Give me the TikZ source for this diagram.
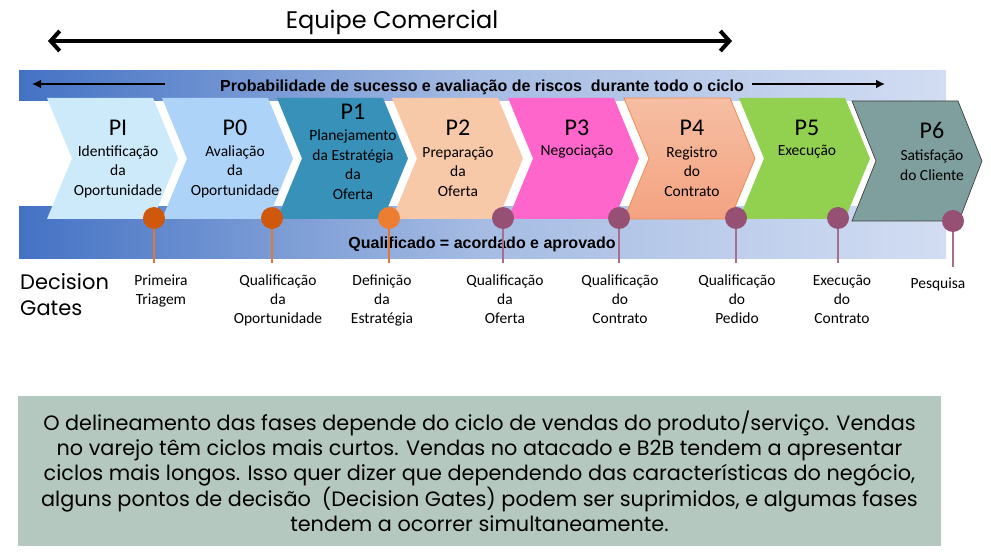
\documentclass[tikz,border=0pt]{standalone}
\usepackage{fontspec}
\setmainfont{Carlito}
\newfontfamily\gothfont{Poppins}
\newfontfamily\arialfont{Liberation Sans}
\usepackage{xcolor}
\usepackage{tikz}
\usetikzlibrary{positioning,arrows.meta}

\definecolor{bandL}{HTML}{4472C4}
\definecolor{bandM}{HTML}{A6BCE3}
\definecolor{bandR}{HTML}{D2DDF2}
\definecolor{cPI}{HTML}{CDEAFB}
\definecolor{cP0}{HTML}{AED3F8}
\definecolor{cP1}{HTML}{3791B8}
\definecolor{cP2}{HTML}{F8C9A8}
\definecolor{cP3}{HTML}{FF66CC}
\definecolor{cP4t}{HTML}{F6BEA3}
\definecolor{cP4b}{HTML}{F4A381}
\definecolor{cP4l}{HTML}{F08C4C}
\definecolor{cP5}{HTML}{92D050}
\definecolor{cP6}{HTML}{7F9E9E}
\definecolor{gDark}{HTML}{D0580C}
\definecolor{gLight}{HTML}{ED7D31}
\definecolor{gPurp}{HTML}{955073}
\definecolor{lOrng}{HTML}{E27838}
\definecolor{lPurp}{HTML}{A86E8E}
\definecolor{noteBg}{HTML}{B5C8C0}

\begin{document}
\begin{tikzpicture}
            [x=1pt,y=-1pt,
             gate/.style={circle, minimum size=22pt, inner sep=0pt},
             gatelbl/.style={font=\fontsize{15.5}{19}\selectfont, align=center, anchor=north, inner sep=0pt},
             ptitle/.style={font=\fontsize{24}{28}\selectfont, inner sep=0pt},
             pbody/.style={font=\fontsize{15.5}{19.5}\selectfont, align=center, inner sep=0pt},
             bandtxt/.style={font=\arialfont\bfseries\fontsize{16}{18}\selectfont, inner sep=0pt}]
            \useasboundingbox (0,0) rectangle (991,556);

            % faixas
            \shade[left color=bandL, right color=bandR, middle color=bandM] (19,71) rectangle (946,101);
            \shade[left color=bandL, right color=bandR, middle color=bandM] (19,207) rectangle (946,259);

            % fases
            \foreach \xo/\col in {47/cPI, 162/cP0, 277/cP1, 392/cP2, 508/cP3, 739/cP5}
            \fill[\col] (\xo,98) -- ++(106,0) -- ++(25,60.5) -- ++(-25,60.5) -- ++(-106,0) -- ++(25,-60.5) -- cycle;
            \shade[top color=cP4t, bottom color=cP4b, draw=cP4l, line width=0.8pt]
              (624,98) -- ++(106,0) -- ++(25,60.5) -- ++(-25,60.5) -- ++(-106,0) -- ++(25,-60.5) -- cycle;
            \filldraw[fill=cP6, draw=black!75, line width=0.7pt]
              (852,101) -- (958,101) -- (982,161) -- (959,221) -- (852,221) -- (876,161) -- cycle;

            \foreach \n/\x/\ty/\by/\txt in {PI/118/128/171.5/{Identificação\\da\\Oportunidade},
                P0/235/128/171.5/{Avaliação\\da\\Oportunidade},
                P1/353/112/164.5/{Planejamento\\da Estratégia\\da\\Oferta},
                P2/458/128/171.5/{Preparação\\da\\Oferta},
                P3/577/128/152/{Negociação},
                P4/692/128/171.5/{Registro\\do\\Contrato},
                P5/807/128/152/{Execução},
                P6/932/130/165/{Satisfação\\do Cliente}}
            {
              \node[ptitle] (t\n) at (\x,\ty) {\n};
              \node[pbody] (b\n) at (\x,\by) {\txt};
            }

            % equipe comercial
            \node[font=\gothfont\fontsize{24}{28}\selectfont, inner sep=0pt] (eq) at (392,22) {Equipe Comercial};
            \coordinate (eqL) at (48,41);
            \coordinate (eqR) at (732,41);
            \draw[line width=4pt, {Straight Barb[length=9pt,width=20pt]}-{Straight Barb[length=9pt,width=20pt]}] (eqL) -- (eqR);

            % textos das faixas
            \node[bandtxt] (prob) at (482,87) {Probabilidade de sucesso e avaliação de riscos~ durante todo o ciclo};
            \coordinate (pL1) at (165,84);
            \coordinate (pL2) at (32,84);
            \coordinate (pR1) at (752,84);
            \coordinate (pR2) at (885,84);
            \draw[line width=2pt, -{Latex[length=9pt,width=9pt]}] (pL1) -- (pL2);
            \draw[line width=2pt, -{Latex[length=9pt,width=9pt]}] (pR1) -- (pR2);
            \node[bandtxt] (qual) at (482,244) {Qualificado = acordado e aprovado};

            % decision gates
            \node[font=\gothfont\fontsize{21}{26}\selectfont, align=left, anchor=west, inner sep=0pt] (dg) at (20,295) {Decision\\Gates};
            \foreach \i/\x/\y/\col/\lc/\ly/\lx/\ty/\txt in {1/154/218/gDark/lOrng/263/161/275/{Primeira\\Triagem},
                2/272/218/gDark/lOrng/263/278/275/{Qualificação\\da\\Oportunidade},
                3/389/218/gLight/lOrng/263/382/275/{Definição\\da\\Estratégia},
                4/503/218/gPurp/lPurp/263/505/275/{Qualificação\\da\\Oferta},
                5/619/218/gPurp/lPurp/263/620/275/{Qualificação\\do\\Contrato},
                6/736/218/gPurp/lPurp/263/737/275/{Qualificação\\do\\Pedido},
                7/838/218/gPurp/lPurp/263/842/275/{Execução\\do\\Contrato},
                8/953/221/gPurp/lPurp/267/938/278/{Pesquisa}}
            {
              \node[gate, fill=\col] (g\i) at (\x,\y) {};
              \coordinate (e\i) at (\x,\ly);
              \draw[line width=2pt, \lc] (g\i) -- (e\i);
              \node[gatelbl] (l\i) at (\lx,\ty) {\txt};
            }

            % nota
            \node[fill=noteBg, minimum width=923pt, minimum height=150pt, inner sep=0pt, align=center,
                  font=\gothfont\fontsize{20.8}{25}\selectfont] (note) at (479.5,471)
              {O delineamento das fases depende do ciclo de vendas do produto/serviço. Vendas\\
               no varejo têm ciclos mais curtos. Vendas no atacado e B2B tendem a apresentar\\
               ciclos mais longos. Isso quer dizer que dependendo das características do negócio,\\
               alguns pontos de decisão~ (Decision Gates) podem ser suprimidos, e algumas fases\\
               tendem a ocorrer simultaneamente.};
          \end{tikzpicture}
\end{document}
